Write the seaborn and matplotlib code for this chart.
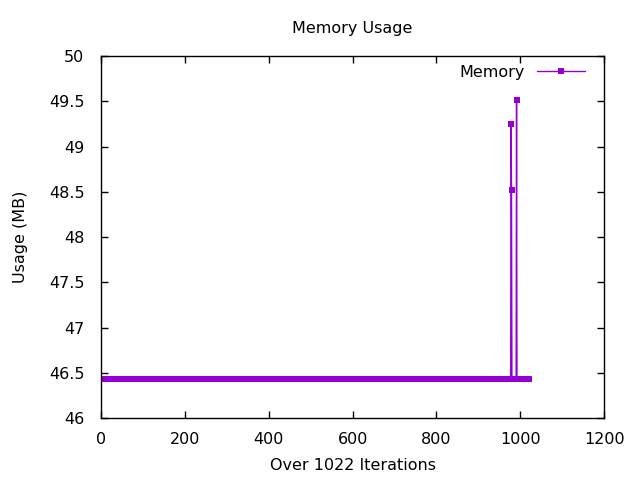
import numpy as np
import pandas as pd
import matplotlib
matplotlib.use("Agg")
import matplotlib.pyplot as plt
import seaborn as sns

n_iter = 1022
baseline_mb = 46.43
spike_iters = [978, 979, 991]
spike_mb = [49.25, 48.52, 49.52]

usage = np.full(n_iter, baseline_mb)
for i, v in zip(spike_iters, spike_mb):
    usage[i] = v
df = pd.DataFrame({"iteration": np.arange(n_iter), "usage": usage})

sns.set_style("ticks")
plt.rcParams["font.family"] = ["DejaVu Sans"]
plt.rcParams["text.color"] = "black"
plt.rcParams["axes.labelcolor"] = "black"
fs = 11.5

fig = plt.figure(figsize=(6.4, 4.8), dpi=100)
ax = fig.add_axes([0.158, 0.129, 0.786, 0.754])

sns.lineplot(data=df, x="iteration", y="usage", ax=ax, color="#9400D3",
             linewidth=1, marker="s", markersize=4.5, markeredgewidth=0,
             label="Memory")

ax.set_xlim(0, 1200)
ax.set_ylim(46, 50)
ax.set_xticks(range(0, 1201, 200))
ax.set_yticks(np.arange(46, 50.01, 0.5))
ax.set_yticklabels(["46", "46.5", "47", "47.5", "48", "48.5", "49", "49.5", "50"])
ax.tick_params(direction="in", top=True, right=True, labelsize=fs, length=5,
               width=1, colors="black")
ax.tick_params(axis="x", pad=10)
ax.tick_params(axis="y", pad=12)
for s in ax.spines.values():
    s.set_color("black")
    s.set_linewidth(1)

ax.set_xlabel("Over 1022 Iterations", fontsize=fs, labelpad=8)
ax.set_ylabel("Usage (MB)", fontsize=fs, labelpad=15)
ax.set_title("Memory Usage", fontsize=fs, pad=17, color="black")

leg = ax.legend(loc="center right", bbox_to_anchor=(0.975, 0.955), borderaxespad=0,
                frameon=False, fontsize=fs, markerfirst=False, handlelength=3.0)

fig.savefig("out.png", dpi=100)
